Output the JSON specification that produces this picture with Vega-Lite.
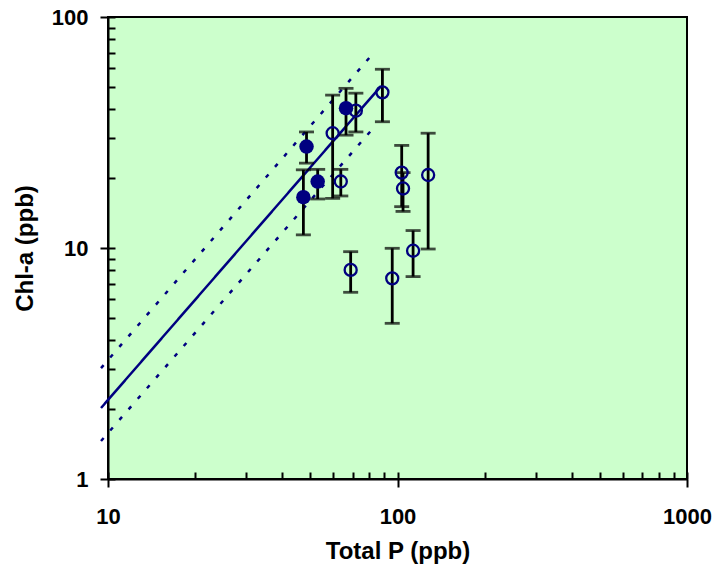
{
  "$schema": "https://vega.github.io/schema/vega-lite/v6.json",
  "width": 579,
  "height": 462,
  "autosize": "none",
  "padding": {"left": 108, "top": 17, "right": 31, "bottom": 99},
  "background": "white",
  "config": {
    "view": {"fill": "#CCFFCC", "stroke": "black", "strokeWidth": 2},
    "axis": {
      "grid": false,
      "labelFont": "Liberation Sans",
      "titleFont": "Liberation Sans",
      "labelFontWeight": "bold",
      "titleFontWeight": "bold",
      "labelColor": "black",
      "titleColor": "black",
      "domainColor": "black",
      "tickColor": "black",
      "tickWidth": 2,
      "domainWidth": 2,
      "labelFlush": false,
      "labelOverlap": false
    }
  },
  "datasets": {
    "pts": [
      {"id": "A", "kind": "filled", "tp": 48.5, "chl": 27.5, "lo": 23.3, "hi": 31.8},
      {"id": "B", "kind": "filled", "tp": 47.3, "chl": 16.6, "lo": 11.4, "hi": 21.8},
      {"id": "C", "kind": "filled", "tp": 53.0, "chl": 19.4, "lo": 16.3, "hi": 21.9},
      {"id": "D", "kind": "filled", "tp": 66.4, "chl": 40.3, "lo": 30.8, "hi": 49.1},
      {"id": "E", "kind": "open", "tp": 59.7, "chl": 31.4, "lo": 16.4, "hi": 45.9},
      {"id": "F", "kind": "open", "tp": 63.7, "chl": 19.4, "lo": 16.8, "hi": 21.9},
      {"id": "G", "kind": "open", "tp": 71.8, "chl": 39.3, "lo": 31.8, "hi": 46.8},
      {"id": "H", "kind": "open", "tp": 88.7, "chl": 47.2, "lo": 35.2, "hi": 59.4},
      {"id": "I", "kind": "open", "tp": 103.4, "chl": 21.2, "lo": 15.1, "hi": 27.8},
      {"id": "J", "kind": "open", "tp": 104.5, "chl": 18.1, "lo": 14.4, "hi": 21.2},
      {"id": "K", "kind": "open", "tp": 127.6, "chl": 20.7, "lo": 9.9, "hi": 31.4},
      {"id": "L", "kind": "open", "tp": 113.2, "chl": 9.73, "lo": 7.52, "hi": 11.9},
      {"id": "M", "kind": "open", "tp": 95.9, "chl": 7.39, "lo": 4.72, "hi": 9.97},
      {"id": "N", "kind": "open", "tp": 68.9, "chl": 8.04, "lo": 6.43, "hi": 9.64}
    ],
    "lines": [
      {"series": "fit", "tp": 9.46, "chl": 2.03},
      {"series": "fit", "tp": 87.7, "chl": 50.2},
      {"series": "upper", "tp": 9.46, "chl": 3.02},
      {"series": "upper", "tp": 82.4, "chl": 69.6},
      {"series": "lower", "tp": 9.46, "chl": 1.46},
      {"series": "lower", "tp": 82.4, "chl": 33.0}
    ]
  },
  "resolve": {"axis": {"x": "independent", "y": "independent"}},
  "layer": [
    {
      "data": {"name": "lines"},
      "mark": {"type": "line", "color": "#000080", "strokeWidth": 2.5},
      "encoding": {
        "x": {
          "field": "tp", "type": "quantitative",
          "scale": {"type": "log", "domain": [10, 1000], "nice": false},
          "axis": {
            "orient": "bottom", "values": [10, 100, 1000], "format": "d",
            "tickSize": 8, "labelFontSize": 22, "labelPadding": 19,
            "title": "Total P (ppb)", "titleFontSize": 24,
            "titleX": 289.5, "titleY": 72, "titleBaseline": "middle", "titleAlign": "center"
          }
        },
        "y": {
          "field": "chl", "type": "quantitative",
          "scale": {"type": "log", "domain": [1, 100], "nice": false},
          "axis": {
            "orient": "left", "values": [1, 10, 100], "format": "d",
            "tickSize": 8, "labelFontSize": 22, "labelPadding": 12,
            "title": "Chl-a (ppb)", "titleFontSize": 24, "titleAngle": -90,
            "titleX": -83, "titleY": 231, "titleBaseline": "middle", "titleAlign": "center"
          }
        },
        "detail": {"field": "series"},
        "strokeDash": {
          "field": "series", "type": "nominal",
          "scale": {"domain": ["fit", "upper", "lower"], "range": [[1, 0], [4, 10], [4, 10]]},
          "legend": null
        }
      }
    },
    {
      "data": {"name": "pts"},
      "mark": {"type": "rule", "color": "black", "strokeWidth": 2.8},
      "encoding": {
        "x": {
          "field": "tp", "type": "quantitative",
          "axis": {
            "orient": "bottom",
            "values": [10, 20, 30, 40, 50, 60, 70, 80, 90, 100, 200, 300, 400, 500, 600, 700, 800, 900, 1000],
            "tickSize": -7, "labels": false, "domain": false, "title": null
          }
        },
        "y": {
          "field": "lo", "type": "quantitative",
          "axis": {
            "orient": "left",
            "values": [1, 2, 3, 4, 5, 6, 7, 8, 9, 10, 20, 30, 40, 50, 60, 70, 80, 90, 100],
            "tickSize": -7, "labels": false, "domain": false, "title": null
          }
        },
        "y2": {"field": "hi"}
      }
    },
    {
      "data": {"name": "pts"},
      "mark": {"type": "tick", "orient": "horizontal", "color": "black", "size": 15, "thickness": 2.8},
      "encoding": {
        "x": {"field": "tp", "type": "quantitative", "axis": null},
        "y": {"field": "lo", "type": "quantitative", "axis": null}
      }
    },
    {
      "data": {"name": "pts"},
      "mark": {"type": "tick", "orient": "horizontal", "color": "black", "size": 15, "thickness": 2.8},
      "encoding": {
        "x": {"field": "tp", "type": "quantitative", "axis": null},
        "y": {"field": "hi", "type": "quantitative", "axis": null}
      }
    },
    {
      "data": {"name": "pts"},
      "transform": [{"filter": "datum.kind === 'open'"}],
      "mark": {"type": "point", "shape": "circle", "filled": false, "color": "#000080", "size": 145, "strokeWidth": 2.3, "opacity": 1},
      "encoding": {
        "x": {"field": "tp", "type": "quantitative", "axis": null},
        "y": {"field": "chl", "type": "quantitative", "axis": null}
      }
    },
    {
      "data": {"name": "pts"},
      "transform": [{"filter": "datum.kind === 'filled'"}],
      "mark": {"type": "point", "shape": "circle", "filled": true, "color": "#000080", "size": 210, "opacity": 1},
      "encoding": {
        "x": {"field": "tp", "type": "quantitative", "axis": null},
        "y": {"field": "chl", "type": "quantitative", "axis": null}
      }
    }
  ]
}
